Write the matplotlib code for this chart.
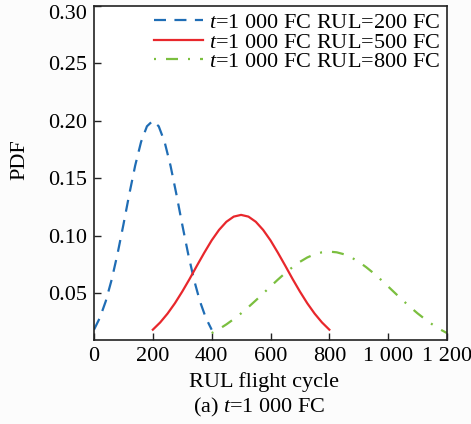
import matplotlib
matplotlib.use("Agg")
import matplotlib.pyplot as plt
import matplotlib.transforms as mtransforms

plt.rcParams['font.family'] = ['Liberation Serif', 'DejaVu Serif']
plt.rcParams['mathtext.fontset'] = 'custom'
plt.rcParams['mathtext.it'] = 'Liberation Serif:italic'
plt.rcParams['mathtext.rm'] = 'Liberation Serif'

# Data
x_blue = [0, 20, 40, 60, 80, 100, 120, 140, 160, 180, 200,
          220, 240, 260, 280, 300, 320, 340, 360, 380, 400]
y_blue = [0.018, 0.0284, 0.0428, 0.0615, 0.0841, 0.1095, 0.1361, 0.1610, 0.1816, 0.1952, 0.200,
          0.1952, 0.1816, 0.1610, 0.1361, 0.1095, 0.0841, 0.0615, 0.0428, 0.0284, 0.018]

x_red = [200, 225, 250, 275, 300, 325, 350, 375, 400, 425, 450, 475, 500,
         525, 550, 575, 600, 625, 650, 675, 700, 725, 750, 775, 800]
y_red = [0.018, 0.0243, 0.0320, 0.0410, 0.0512, 0.0622, 0.0738, 0.0851, 0.0958, 0.1049, 0.1120, 0.1165, 0.118,
         0.1165, 0.1120, 0.1049, 0.0958, 0.0851, 0.0738, 0.0622, 0.0512, 0.0410, 0.0320, 0.0243, 0.018]

x_green = [400, 425, 450, 475, 500, 525, 550, 575, 600, 625, 650, 675, 700, 725, 750, 775, 800,
           825, 850, 875, 900, 925, 950, 975, 1000, 1025, 1050, 1075, 1100, 1125, 1150, 1175, 1200]
y_green = [0.015, 0.0185, 0.0226, 0.0272, 0.0322, 0.0377, 0.0435, 0.0495, 0.0556, 0.0616, 0.0673,
           0.0725, 0.0771, 0.0809, 0.0837, 0.0854, 0.086,
           0.0854, 0.0837, 0.0809, 0.0771, 0.0725, 0.0673, 0.0616, 0.0556, 0.0495, 0.0435,
           0.0377, 0.0322, 0.0272, 0.0226, 0.0185, 0.015]

labels = ['$t$=1 000 FC RUL=200 FC', '$t$=1 000 FC RUL=500 FC', '$t$=1 000 FC RUL=800 FC']
xticks = [0, 200, 400, 600, 800, 1000, 1200]
xticklabels = ['0', '200', '400', '600', '800', '1 000', '1 200']
yticks = [0.05, 0.10, 0.15, 0.20, 0.25, 0.30]
yticklabels = ['0.05', '0.10', '0.15', '0.20', '0.25', '0.30']

W, H = 471, 424
fig = plt.figure(figsize=(W / 100, H / 100), dpi=100)
ax = fig.add_axes([94/W, 84/H, 353/W, 334/H])

ax.plot(x_blue, y_blue, color='#1f6db5', lw=1.6, ls=(0, (5.4, 3.8)), label=labels[0])
ax.plot(x_red, y_red, color='#e8272c', lw=1.6, ls='-', label=labels[1])
ax.plot(x_green, y_green, color='#7bbf3f', lw=1.6, ls=(0, (0.9, 4.5, 5.4, 4.5)), label=labels[2])

ax.set_xlim(0, 1200)
ax.set_ylim(0.009, 0.30)
ax.set_xticks(xticks)
ax.set_xticklabels(xticklabels)
ax.set_yticks(yticks)
ax.set_yticklabels(yticklabels)
ax.tick_params(direction='in', labelsize=16, length=5, width=1, color='#222222',
               top=False, right=False, pad=5)
for s in ax.spines.values():
    s.set_linewidth(1.2)
    s.set_color('#222222')

# top y label sits slightly lower in the reference
top_lbl = ax.get_yticklabels()[-1]
top_lbl.set_transform(top_lbl.get_transform() +
                      mtransforms.ScaledTranslation(0, -6 / 100, fig.dpi_scale_trans))

fig.text(20 / W, 1 - 160 / H, 'PDF', rotation=90, fontsize=16, ha='center', va='center')
fig.text(264 / W, 1 - 382 / H, 'RUL flight cycle', fontsize=16, ha='center', va='center')
fig.text(259 / W, 1 - 407 / H, '(a) $t$=1 000 FC', fontsize=16, ha='center', va='center')

leg = ax.legend(loc='upper right', frameon=False, fontsize=16, handlelength=2.2,
                handletextpad=0.27, labelspacing=-0.05, borderaxespad=0.1,
                borderpad=0.2)

fig.savefig('out.png', dpi=100, facecolor='#fcfcfc')
